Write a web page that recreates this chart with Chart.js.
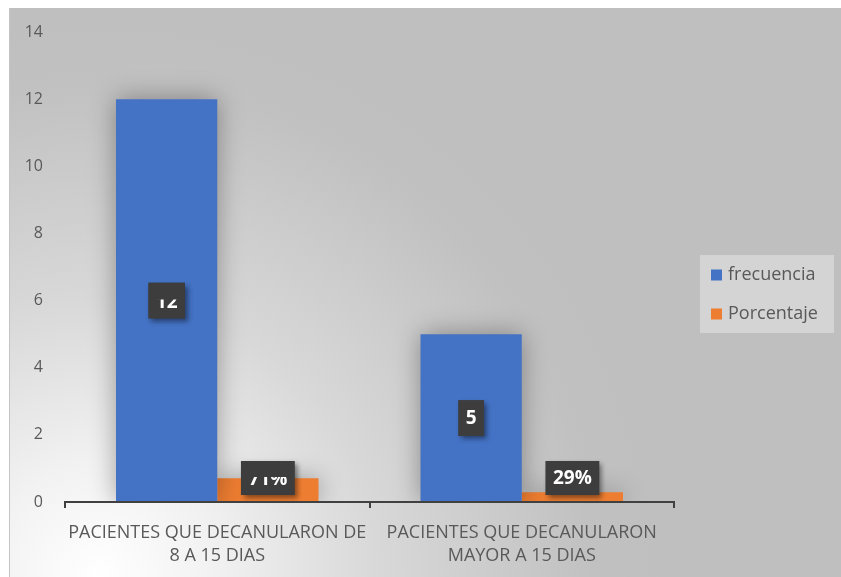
<!DOCTYPE html>
<html>
<head>
<meta charset="utf-8">
<script src="https://cdn.jsdelivr.net/npm/chart.js@4.4.1/dist/chart.umd.min.js"></script>
<style>
  html, body { margin: 0; padding: 0; background: #fff; }
  #wrap { position: absolute; left: 9px; top: 8px; }
</style>
</head>
<body>
<div id="wrap"><canvas id="chart" width="832" height="569"></canvas></div>
<script>
const categories = [
  ["PACIENTES QUE DECANULARON DE", "8 A 15 DIAS"],
  ["PACIENTES QUE DECANULARON", "MAYOR A 15 DIAS"]
];
const frecuencia = [12, 5];
const porcentaje = [0.71, 0.29];
const porcentajeText = ["71%", "29%"];
const seriesNames = ["frecuencia", "Porcentaje"];
const seriesColors = ["#4472C4", "#ED7D31"];

const FONT = "'Open Sans', sans-serif";
const GREY_TEXT = "#595959";

// soft grey panel, lighter toward the lower left
const panelBackground = {
  id: "panelBackground",
  beforeDraw(chart) {
    const ctx = chart.ctx;
    const w = chart.width, h = chart.height;
    const g = ctx.createRadialGradient(90, h, 0, 90, h, 560);
    g.addColorStop(0, "#ffffff");
    g.addColorStop(0.2, "#f2f2f2");
    g.addColorStop(0.5, "#d8d8d8");
    g.addColorStop(0.88, "#c1c1c1");
    g.addColorStop(1, "#bfbfbf");
    ctx.save();
    ctx.fillStyle = g;
    ctx.fillRect(0, 0, w, h);
    ctx.strokeStyle = "#c4c4c4";
    ctx.lineWidth = 1;
    ctx.beginPath();
    ctx.moveTo(0.5, 0);
    ctx.lineTo(0.5, h);
    ctx.stroke();
    ctx.restore();
  }
};

// glow-like shadow behind the bars
const barShadow = {
  id: "barShadow",
  beforeDatasetsDraw(chart) {
    const ctx = chart.ctx;
    ctx.save();
    ctx.shadowColor = "rgba(0,0,0,0.35)";
    ctx.shadowBlur = 24;
  },
  afterDatasetsDraw(chart) {
    chart.ctx.restore();
  }
};

// dark callout boxes with the values
const valueBoxes = {
  id: "valueBoxes",
  afterDatasetsDraw(chart) {
    const ctx = chart.ctx;
    ctx.save();
    ctx.font = "bold 19px " + FONT;
    chart.data.datasets.forEach((ds, di) => {
      const meta = chart.getDatasetMeta(di);
      meta.data.forEach((bar, i) => {
        const text = di === 0 ? String(frecuencia[i]) : porcentajeText[i];
        let cy;
        if (di === 0) cy = (bar.y + bar.base) / 2;
        else cy = Math.min(bar.y, bar.base - 24);
        const tw = ctx.measureText(text).width;
        const bw = tw + 15, bh = di === 0 ? 36 : 34;
        const bx = bar.x - bw / 2, by = cy - bh / 2;

        ctx.save();
        ctx.shadowColor = "rgba(0,0,0,0.45)";
        ctx.shadowBlur = 5;
        ctx.shadowOffsetX = 3;
        ctx.shadowOffsetY = 3;
        ctx.fillStyle = "#3d3d3d";
        ctx.fillRect(bx, by, bw, bh);
        ctx.restore();

        ctx.save();
        // the first group's labels only show their lower half
        if (i === 0) {
          ctx.beginPath();
          ctx.rect(bx, cy - 1, bw, bh / 2 + 1);
          ctx.clip();
        }
        ctx.fillStyle = "#ffffff";
        ctx.textAlign = "center";
        ctx.textBaseline = "middle";
        ctx.fillText(text, bar.x, cy + (i === 0 ? 2 : 1));
        ctx.restore();
      });
    });
    ctx.restore();
  }
};

// legend box on the right
const sideLegend = {
  id: "sideLegend",
  afterDraw(chart) {
    const ctx = chart.ctx;
    ctx.save();
    ctx.fillStyle = "#d4d4d4";
    ctx.fillRect(691, 247, 134, 78);
    ctx.font = "18px " + FONT;
    ctx.textBaseline = "middle";
    const rows = [267, 306];
    seriesNames.forEach((name, k) => {
      ctx.fillStyle = seriesColors[k];
      ctx.fillRect(702, rows[k] - 5.5, 11, 11);
      ctx.fillStyle = GREY_TEXT;
      ctx.fillText(name, 719, rows[k]);
    });
    ctx.restore();
  }
};

new Chart(document.getElementById("chart"), {
  type: "bar",
  data: {
    labels: categories,
    datasets: [
      {
        label: seriesNames[0],
        data: frecuencia,
        backgroundColor: seriesColors[0],
        categoryPercentage: 0.665,
        barPercentage: 1
      },
      {
        label: seriesNames[1],
        data: porcentaje,
        backgroundColor: seriesColors[1],
        categoryPercentage: 0.665,
        barPercentage: 1
      }
    ]
  },
  options: {
    responsive: false,
    animation: false,
    layout: {
      padding: { top: 24, right: 167, left: 0, bottom: 0 }
    },
    plugins: {
      legend: { display: false },
      tooltip: { enabled: false }
    },
    scales: {
      x: {
        grid: {
          display: true,
          drawOnChartArea: false,
          drawTicks: true,
          tickLength: 6,
          color: "#404040",
          lineWidth: 2,
          offset: true
        },
        border: { display: true, color: "#404040", width: 2, z: 1 },
        ticks: {
          color: GREY_TEXT,
          font: { family: FONT, size: 18, lineHeight: 1.28 },
          padding: 13,
          maxRotation: 0,
          autoSkip: false
        },
        afterFit(scale) { scale.height = 75; }
      },
      y: {
        min: 0,
        max: 14,
        ticks: {
          stepSize: 2,
          color: GREY_TEXT,
          font: { family: FONT, size: 16 },
          padding: 14
        },
        grid: { display: false },
        border: { display: false },
        afterFit(scale) { scale.width = 56; }
      }
    }
  },
  plugins: [panelBackground, barShadow, valueBoxes, sideLegend]
});
</script>
</body>
</html>
